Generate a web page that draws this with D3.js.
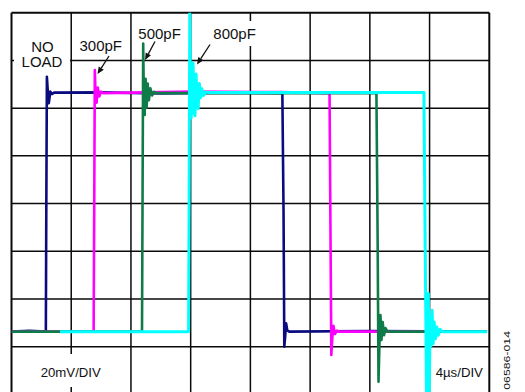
<!DOCTYPE html>
<html>
<head>
<meta charset="utf-8">
<script src="https://cdn.jsdelivr.net/npm/d3@7/dist/d3.min.js"></script>
<style>
  html, body { margin: 0; padding: 0; background: #fff; }
  svg { display: block; }
  text { font-family: "Liberation Sans", Arial, Helvetica, sans-serif; fill: #111; }
</style>
</head>
<body>
<svg id="chart" width="525" height="392"></svg>
<script>
// Scope capture: output with no load and with 300/500/800 pF loads.
// Time in microseconds (4 µs/div), amplitude in mV (20 mV/div).
const timeDivisions = [0, 4, 8, 12, 16, 20, 24, 28, 32];
const ampDivisions = [0, 1, 2, 3, 4, 5, 6, 7, 8];

const traceNames = ["NO LOAD", "300pF", "500pF", "800pF"];
const traceColors = ["#0b0b80", "#ff00ff", "#0e7c48", "#00ffff"];

const noLoadTrace = [
  [0, 0], [1.2, 0.4], [2.30, 0], [2.33, 50], [2.37, 106.8], [2.43, 101], [2.50, 95.8],
  [2.60, 100.6], [2.72, 99.6], [2.85, 100.2], [6, 100.3], [10, 99.8], [14, 100.2],
  [18.14, 100], [18.22, 50], [18.27, -6.3], [18.33, -2], [18.39, 3.5], [18.47, 0.5],
  [18.6, 0], [24, 0.3], [31.85, 0]
];
const load300Trace = [
  [0, 0], [5.50, 0], [5.54, 50], [5.58, 109.7], [5.64, 97.5], [5.70, 96], [5.78, 102.3],
  [5.88, 98.6], [6.0, 100.6], [6.15, 100], [12, 100.6], [18, 100.4],
  [21.30, 100], [21.36, 45], [21.42, -9.8], [21.48, -3], [21.56, 2.5], [21.66, -1],
  [21.80, 0.4], [21.95, 0], [31.85, 0]
];
const load500Trace = [
  [0, 0], [8.74, 0], [8.78, 60], [8.82, 120.8], [8.87, 95], [8.92, 90.8], [8.98, 106],
  [9.05, 94], [9.12, 104], [9.20, 97], [9.30, 102], [9.42, 99], [9.55, 100.5], [9.7, 100],
  [24.44, 100], [24.52, 40], [24.58, -21], [24.64, -6], [24.71, 7], [24.78, -3.5],
  [24.86, 4], [24.95, -1.5], [25.05, 1.5], [25.18, 0], [31.85, 0]
];
const load800Trace = [
  [3.25, 0], [11.86, 0], [11.90, 60], [11.94, 133.7], [11.99, 96], [12.04, 89.6],
  [12.10, 108], [12.16, 112.6], [12.22, 92], [12.29, 90.5], [12.36, 108], [12.43, 97],
  [12.50, 93.5], [12.58, 104], [12.66, 98], [12.75, 101.8], [12.86, 99], [13.0, 100.5],
  [13.2, 100.3], [27.62, 100.3], [27.70, 40], [27.80, -30], [27.86, -8], [27.92, 16],
  [27.97, -30], [28.04, 6], [28.10, -6], [28.17, 9], [28.24, -5], [28.31, 4], [28.39, -3],
  [28.48, 2], [28.58, -1.5], [28.70, 1], [28.85, 0], [31.85, 0]
];
const traces = [noLoadTrace, load300Trace, load500Trace, load800Trace];

const svg = d3.select("#chart");
const plotLeft = 11.5, plotRight = 489.3, plotTop = 12.7, plotBottom = 394.4;

// Screen grid (divisions) and signal scales
const x = d3.scaleLinear().domain([0, 32]).range([plotLeft, plotRight]);
const yDiv = d3.scaleLinear().domain([0, 8]).range([plotTop, plotBottom]);
const y = d3.scaleLinear().domain([-26.3, 133.7]).range([plotBottom, plotTop]);

const grid = svg.append("g").attr("stroke", "#0a0a0a");
grid.selectAll("line.v").data(timeDivisions).join("line")
  .attr("class", "v")
  .attr("x1", d => x(d)).attr("x2", d => x(d))
  .attr("y1", plotTop).attr("y2", plotBottom)
  .attr("stroke-width", (d, i) => (i === 0 || i === timeDivisions.length - 1) ? 2 : 1.5);
grid.selectAll("line.h").data(ampDivisions).join("line")
  .attr("class", "h")
  .attr("x1", plotLeft).attr("x2", plotRight)
  .attr("y1", d => yDiv(d)).attr("y2", d => yDiv(d))
  .attr("stroke-width", (d, i) => i === 0 ? 2 : 1.5);

// White backing behind annotation text
const boxes = [
  [14, 34, 56, 36],
  [211, 21, 49, 25],
  [36, 354, 68, 33]
];
svg.append("g").selectAll("rect").data(boxes).join("rect")
  .attr("x", d => d[0]).attr("y", d => d[1])
  .attr("width", d => d[2]).attr("height", d => d[3])
  .attr("fill", "#fff");

const line = d3.line().x(d => x(d[0])).y(d => y(d[1]));
svg.append("defs").append("clipPath").attr("id", "plotClip")
  .append("rect").attr("x", plotLeft).attr("y", plotTop)
  .attr("width", plotRight - plotLeft).attr("height", plotBottom - plotTop);

svg.append("g").attr("clip-path", "url(#plotClip)")
  .selectAll("path").data(traces).join("path")
  .attr("d", line)
  .attr("fill", "none")
  .attr("stroke", (d, i) => traceColors[i])
  .attr("stroke-width", (d, i) => i === 3 ? 3 : 2.6)
  .attr("stroke-linejoin", "round");

// Trace labels
const labels = svg.append("g").attr("font-size", 15);
labels.append("text").attr("x", 42.5).attr("y", 52).attr("text-anchor", "middle").text("NO");
labels.append("text").attr("x", 42).attr("y", 67).attr("text-anchor", "middle").text("LOAD");
labels.append("text").attr("x", 79.5).attr("y", 51).text(traceNames[1]);
labels.append("text").attr("x", 138.3).attr("y", 39).text(traceNames[2]);
labels.append("text").attr("x", 213.3).attr("y", 39.3).text(traceNames[3]);

// Arrows from labels to the overshoots
const arrows = [
  [[109, 56], [97.5, 74]],
  [[155, 41.5], [145, 60]],
  [[210, 44.5], [197, 64.5]]
];
const arrowG = svg.append("g");
arrows.forEach(([a, b]) => {
  const ang = Math.atan2(b[1] - a[1], b[0] - a[0]);
  const len = 7, wid = 3;
  const base = [b[0] - len * Math.cos(ang), b[1] - len * Math.sin(ang)];
  arrowG.append("line")
    .attr("x1", a[0]).attr("y1", a[1]).attr("x2", base[0]).attr("y2", base[1])
    .attr("stroke", "#111").attr("stroke-width", 1.3);
  const p1 = [base[0] + wid * Math.sin(ang), base[1] - wid * Math.cos(ang)];
  const p2 = [base[0] - wid * Math.sin(ang), base[1] + wid * Math.cos(ang)];
  arrowG.append("path")
    .attr("d", `M${b[0]},${b[1]}L${p1[0]},${p1[1]}L${p2[0]},${p2[1]}Z`)
    .attr("fill", "#111");
});

// Scale settings
svg.append("text").attr("x", 40.7).attr("y", 377.3).attr("font-size", 13.2).text("20mV/DIV");
svg.append("text").attr("x", 435.7).attr("y", 377).attr("font-size", 13.2).text("4µs/DIV");

// Figure reference number
svg.append("text")
  .attr("transform", "translate(509.5,331) rotate(-90) scale(1,0.68)")
  .attr("text-anchor", "end")
  .attr("font-size", 12.3)
  .text("06586-014");
</script>
</body>
</html>
